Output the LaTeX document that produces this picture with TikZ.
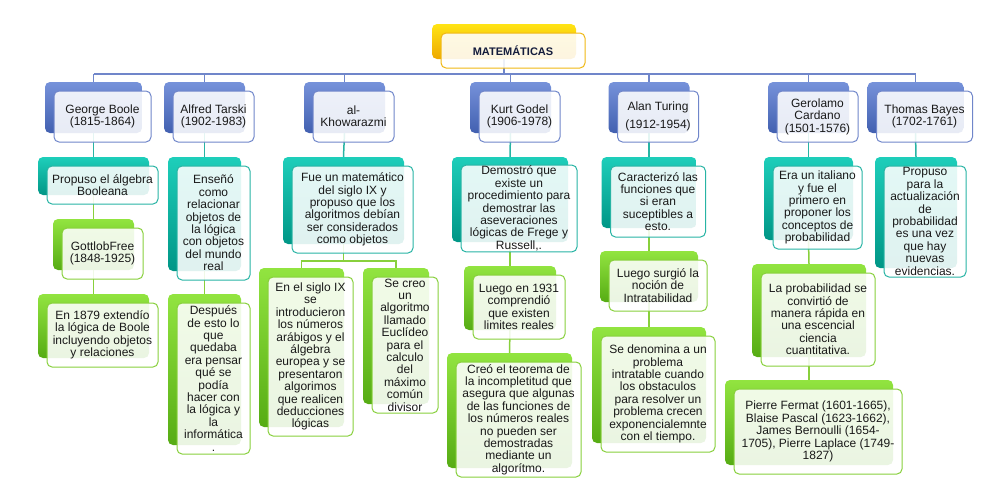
\documentclass[tikz,border=0pt]{standalone}
\usepackage{fontspec}
\setmainfont{Liberation Sans}
\usetikzlibrary{positioning,calc,backgrounds}
\definecolor{bluetop}{RGB}{118,146,218}
\definecolor{bluebot}{RGB}{66,96,176}
\definecolor{blueline}{RGB}{112,134,202}
\definecolor{goldtop}{RGB}{255,228,20}
\definecolor{goldbot}{RGB}{238,168,0}
\definecolor{goldline}{RGB}{240,184,20}
\definecolor{tealtop}{RGB}{30,206,186}
\definecolor{tealbot}{RGB}{0,150,134}
\definecolor{tealline}{RGB}{40,180,164}
\definecolor{greentop}{RGB}{146,228,64}
\definecolor{greenbot}{RGB}{86,172,20}
\definecolor{greenline}{RGB}{136,208,60}
\definecolor{titletext}{RGB}{20,28,60}

\tikzset{
  mapback/.style={rectangle, rounded corners=5pt, inner sep=0pt},
  mapfront/.style={rectangle, rounded corners=5pt, inner sep=1pt, line width=1pt,
    fill=white, fill opacity=0.88, text opacity=1, align=center,
    font=\fontsize{12}{12.4}\selectfont, text=black!90},
  goldback/.style={mapback, top color=goldtop, bottom color=goldbot},
  goldfront/.style={mapfront, draw=goldline},
  blueback/.style={mapback, top color=bluetop, bottom color=bluebot},
  bluefront/.style={mapfront, draw=blueline},
  tealback/.style={mapback, top color=tealtop, bottom color=tealbot},
  tealfront/.style={mapfront, draw=tealline},
  greenback/.style={mapback, top color=greentop, bottom color=greenbot},
  greenfront/.style={mapfront, draw=greenline},
  link/.style={line width=1.5pt}
}

% name, x, y, width, height, colour, text
\newcommand{\mapbox}[7]{%
  \node[#6back, minimum width=#4pt, minimum height=#5pt] (#1B) at (#2,#3) {};
  \node[#6front, minimum width=#4pt, minimum height=#5pt]
    (#1) at ([shift={(9pt,-9pt)}]#1B.center) {#7};}

\begin{document}
\begin{tikzpicture}[x=1pt,y=-1pt]
  \useasboundingbox (0,0) rectangle (994,490);

  % title
  \mapbox{mat}{504}{41.5}{144}{35}{gold}{\bfseries\fontsize{11}{12}\selectfont\color{titletext}MATEMÁTICAS}

  % people
  \mapbox{boole}{93.5}{107.5}{97}{51}{blue}{George Boole\\(1815-1864)}
  \mapbox{tarski}{204.5}{107.5}{81}{51}{blue}{Alfred Tarski\\(1902-1983)}
  \mapbox{khow}{344.5}{107.5}{81}{51}{blue}{al-\\Khowarazmi}
  \mapbox{godel}{510.5}{107.5}{81}{51}{blue}{Kurt Godel\\(1906-1978)}
  \mapbox{turing}{649}{107.5}{81}{51}{blue}{Alan Turing\\[5pt](1912-1954)}
  \mapbox{cardano}{808.5}{107.5}{81}{51}{blue}{Gerolamo\\Cardano\\(1501-1576)}
  \mapbox{bayes}{915.5}{107.5}{96}{51}{blue}{Thomas Bayes\\(1702-1761)}

  % second row
  \mapbox{boolea}{93.5}{176}{111}{38}{teal}{Propuso el álgebra\\Booleana}
  \mapbox{tarskia}{204.5}{214}{73}{114}{teal}{Enseñó\\como\\relacionar\\objetos de\\la lógica\\con objetos\\del mundo\\real}
  \mapbox{khowa}{343.5}{200.5}{121}{87}{teal}{Fue un matemático\\del siglo IX y\\propuso que los\\algoritmos debían\\ser considerados\\como objetos}
  \mapbox{godela}{510}{199.5}{116}{85}{teal}{Demostró que\\existe un\\procedimiento para\\demostrar las\\aseveraciones\\lógicas de  Frege y\\Russell,.}
  \mapbox{turinga}{649}{192.5}{95}{71}{teal}{Caracterizó las\\funciones que\\si eran\\suceptibles a\\esto.}
  \mapbox{cardanoa}{808.5}{198.5}{89}{83}{teal}{Era un italiano\\y fue el\\primero en\\proponer los\\conceptos de\\probabilidad}
  \mapbox{bayesa}{916}{212.5}{82}{111}{teal}{Propuso\\para la\\actualización\\de\\probabilidad\\es una vez\\que hay\\nuevas\\evidencias.}

  % lower rows
  \mapbox{booleb}{93.5}{244.5}{81}{51}{green}{GottlobFree\\(1848-1925)}
  \mapbox{boolec}{93.5}{326}{111}{64}{green}{En 1879 extendío\\la lógica de Boole\\incluyendo objetos\\y relaciones}
  \mapbox{tarskib}{204.5}{369.5}{73}{151}{green}{Después\\de esto lo\\que\\quedaba\\era pensar\\qué se\\podía\\hacer con\\la lógica y\\la\\informática\\.}
  \mapbox{khowb}{301.5}{347.5}{85}{159}{green}{En el siglo IX\\se\\introducieron\\los números\\arábigos  y el\\álgebra\\europea y se\\presentaron\\algorimos\\que realicen\\deducciones\\lógicas}
  \mapbox{khowc}{396}{336}{66}{136}{green}{Se creo\\un\\algoritmo\\llamado\\Euclídeo\\para el\\calculo\\del\\máximo\\común\\divisor}
  \mapbox{godelb}{510}{298}{92}{64}{green}{Luego en 1931\\comprendió\\que existen\\limites reales}
  \mapbox{godelc}{509.5}{410.5}{125}{115}{green}{Creó el teorema de\\la incompletitud que\\asegura que algunas\\de las funciones de\\los números reales\\no pueden ser\\demostradas\\mediante un\\algorítmo.}
  \mapbox{turingb}{649}{276.5}{98}{51}{green}{Luego surgió la\\noción de\\Intratabilidad}
  \mapbox{turingc}{649}{385}{114}{116}{green}{Se denomina a un\\problema\\intratable cuando\\los obstaculos\\para resolver un\\problema crecen\\exponencialemnte\\con el tiempo.}
  \mapbox{cardanob}{809}{310.5}{114}{93}{green}{La probabilidad se\\convirtió de\\manera rápida en\\una escencial\\ciencia\\cuantitativa.}
  \mapbox{cardanoc}{809}{422.5}{168}{85}{green}{Pierre Fermat (1601-1665),\\Blaise Pascal (1623-1662),\\James Bernoulli (1654-\\1705), Pierre Laplace (1749-\\1827)}

  \begin{pgfonlayer}{background}
    % title to people
    \coordinate (bus) at (504,74);
    \draw[link,blueline] (matB.south) -- (bus);
    \draw[link,blueline] (bus -| booleB.north) -- (bus -| bayesB.north);
    \foreach \p in {boole,tarski,khow,godel,turing,cardano,bayes}
      \draw[link,blueline] (bus -| \p B.north) -- (\p B.north);
    % people to second row
    \foreach \p in {boole,tarski,khow,godel,turing,cardano,bayes}
      \draw[link,tealline] (\p B.south) -- (\p aB.north);
    % second row downwards
    \draw[link,greenline] (booleaB.south) -- (boolebB.north);
    \draw[link,greenline] (boolebB.south) -- (boolecB.north);
    \draw[link,greenline] (tarskiaB.south) -- (tarskibB.north);
    \coordinate (khowsplit) at (343.5,261);
    \draw[link,greenline] (khowaB.south) -- (khowsplit);
    \draw[link,greenline] (khowbB.north) -- (khowbB.north |- khowsplit)
      -- (khowcB.north |- khowsplit) -- (khowcB.north);
    \draw[link,greenline] (godelaB.south) -- (godelbB.north);
    \draw[link,greenline] (godelbB.south) -- (godelcB.north);
    \draw[link,greenline] (turingaB.south) -- (turingbB.north);
    \draw[link,greenline] (turingbB.south) -- (turingcB.north);
    \draw[link,greenline] (cardanoaB.south) -- (cardanobB.north);
    \draw[link,greenline] (cardanobB.south) -- (cardanocB.north);
  \end{pgfonlayer}
\end{tikzpicture}
\end{document}
